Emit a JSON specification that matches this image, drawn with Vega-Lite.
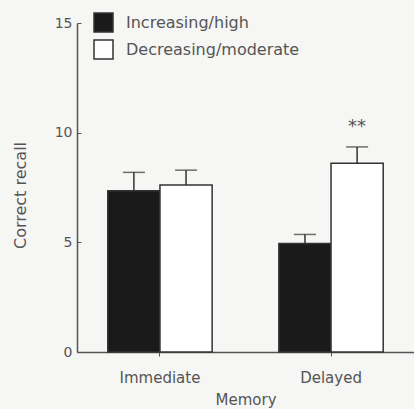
{
  "$schema": "https://vega.github.io/schema/vega-lite/v6.json",
  "width": 337,
  "height": 329,
  "autosize": "none",
  "padding": {"left": 77, "top": 23, "right": 0, "bottom": 57},
  "background": "#f6f6f4",
  "config": {
    "font": "DejaVu Sans",
    "view": {"stroke": null},
    "axis": {"labelColor": "#555", "titleColor": "#555", "domainColor": "#555", "tickColor": "#555", "grid": false, "labelFontSize": 14, "titleFontSize": 15, "titleFontWeight": "normal", "domainWidth": 1.5, "labelFont": "DejaVu Sans", "titleFont": "DejaVu Sans"}
  },
  "data": {
    "values": [
      {"Memory": "Immediate", "group": "Increasing/high", "recall": 7.35, "upper": 8.19, "sig": ""},
      {"Memory": "Immediate", "group": "Decreasing/moderate", "recall": 7.61, "upper": 8.29, "sig": ""},
      {"Memory": "Delayed", "group": "Increasing/high", "recall": 4.95, "upper": 5.36, "sig": ""},
      {"Memory": "Delayed", "group": "Decreasing/moderate", "recall": 8.6, "upper": 9.35, "sig": "**"}
    ]
  },
  "encoding": {
    "x": {
      "field": "Memory", "type": "nominal", "sort": ["Immediate", "Delayed"],
      "scale": {"paddingInner": 0.39, "paddingOuter": 0.18},
      "axis": {"labelAngle": 0, "tickSize": 4, "labelPadding": 14, "labelFontSize": 15, "titlePadding": 7, "title": "Memory"}
    },
    "xOffset": {"field": "group", "type": "nominal", "sort": ["Increasing/high", "Decreasing/moderate"], "scale": {"paddingInner": 0, "paddingOuter": 0}}
  },
  "layer": [
    {
      "mark": {"type": "rule", "color": "#333", "strokeWidth": 1.5},
      "encoding": {
        "y": {"field": "recall", "type": "quantitative"},
        "y2": {"field": "upper"}
      }
    },
    {
      "mark": {"type": "tick", "color": "#333", "size": 22, "thickness": 1.5},
      "encoding": {
        "y": {"field": "upper", "type": "quantitative"}
      }
    },
    {
      "mark": {"type": "bar", "stroke": "#333", "strokeWidth": 1.5},
      "encoding": {
        "y": {
          "field": "recall", "type": "quantitative",
          "scale": {"domain": [0, 15], "nice": false},
          "axis": {"values": [0, 5, 10, 15], "tickSize": -4, "labelPadding": 9, "labelFontSize": 14, "title": "Correct recall", "titleFontSize": 16, "titlePadding": 26, "titleY": 172}
        },
        "fill": {
          "field": "group", "type": "nominal",
          "scale": {"domain": ["Increasing/high", "Decreasing/moderate"], "range": ["#1a1a1a", "#ffffff"]},
          "legend": {
            "title": null, "orient": "none", "legendX": 16, "legendY": -11,
            "symbolType": "square", "symbolSize": 361, "symbolStrokeColor": "#333", "symbolStrokeWidth": 1.5, "symbolOpacity": 1,
            "labelFont": "DejaVu Sans", "labelFontSize": 16, "labelColor": "#555", "labelOffset": 12, "labelLimit": 300, "rowPadding": 2, "padding": 0
          }
        }
      }
    },
    {
      "transform": [{"filter": "datum.sig != ''"}],
      "mark": {"type": "text", "fontSize": 18, "color": "#555", "baseline": "middle", "dy": 1},
      "encoding": {
        "y": {"value": 103},
        "text": {"field": "sig"}
      }
    }
  ]
}
